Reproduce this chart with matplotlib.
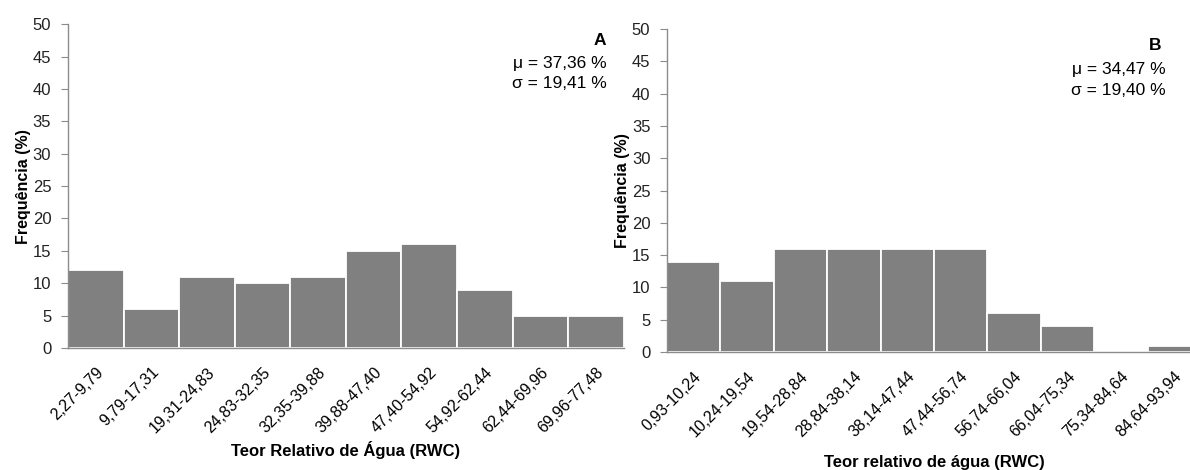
import numpy as np
import matplotlib
matplotlib.use("Agg")
import matplotlib.pyplot as plt

plt.rcParams['font.family'] = ['Liberation Sans', 'DejaVu Sans']

# panel A
classes_a = ["2,27-9,79", "9,79-17,31", "19,31-24,83", "24,83-32,35", "32,35-39,88",
             "39,88-47,40", "47,40-54,92", "54,92-62,44", "62,44-69,96", "69,96-77,48"]
freq_a = [12, 6, 11, 10, 11, 15, 16, 9, 5, 5]

# panel B
classes_b = ["0,93-10,24", "10,24-19,54", "19,54-28,84", "28,84-38,14", "38,14-47,44",
             "47,44-56,74", "56,74-66,04", "66,04-75,34", "75,34-84,64", "84,64-93,94"]
freq_b = [14, 11, 16, 16, 16, 16, 6, 4, 0, 1]

fig = plt.figure(figsize=(11.9, 4.7), dpi=100)
axA = fig.add_axes([0.0571, 0.2596, 0.467, 0.689])
axB = fig.add_axes([0.5605, 0.251, 0.4487, 0.687])

bar_col = "#808080"
line_col = "#8c8c8c"


def style(ax, labels, vals, xlabel, xpad):
    x = np.arange(len(vals))
    ax.bar(x, vals, width=1.0, color=bar_col, edgecolor="white", linewidth=1.3)
    ax.set_xlim(-0.5, len(vals) - 0.5)
    ax.set_ylim(0, 50)
    ax.set_yticks(np.arange(0, 51, 5))
    ax.set_xticks(x)
    ax.set_xticklabels(labels, rotation=45, ha="right", rotation_mode="anchor", fontsize=11.5)
    ax.tick_params(axis="x", length=0, pad=12)
    ax.tick_params(axis="y", length=5, color=line_col, labelsize=12, pad=7, labelcolor="#222222")
    for s in ["top", "right"]:
        ax.spines[s].set_visible(False)
    for s in ["left", "bottom"]:
        ax.spines[s].set_color(line_col)
        ax.spines[s].set_linewidth(1.0)
    ax.set_ylabel(u"Frequência (%)", fontsize=11.5, fontweight="bold", labelpad=1)
    ax.set_xlabel(xlabel, fontsize=12, fontweight="bold", labelpad=xpad)


style(axA, classes_a, freq_a, u"Teor Relativo de Água (RWC)", 4)
style(axB, classes_b, freq_b, u"Teor relativo de água (RWC)", 11)

axA.text(0.969, 47.5, "A", transform=axA.get_yaxis_transform(), ha="right", va="center",
         fontsize=12.5, fontweight="bold")
axA.text(0.969, 44.0, u"μ = 37,36 %", transform=axA.get_yaxis_transform(),
         ha="right", va="center", fontsize=12.5)
axA.text(0.969, 40.9, u"σ = 19,41 %", transform=axA.get_yaxis_transform(),
         ha="right", va="center", fontsize=12.5)

axB.text(0.925, 47.5, "B", transform=axB.get_yaxis_transform(), ha="right", va="center",
         fontsize=12.5, fontweight="bold")
axB.text(0.933, 43.8, u"μ = 34,47 %", transform=axB.get_yaxis_transform(),
         ha="right", va="center", fontsize=12.5)
axB.text(0.933, 40.5, u"σ = 19,40 %", transform=axB.get_yaxis_transform(),
         ha="right", va="center", fontsize=12.5)

fig.savefig("out.png", dpi=100)
